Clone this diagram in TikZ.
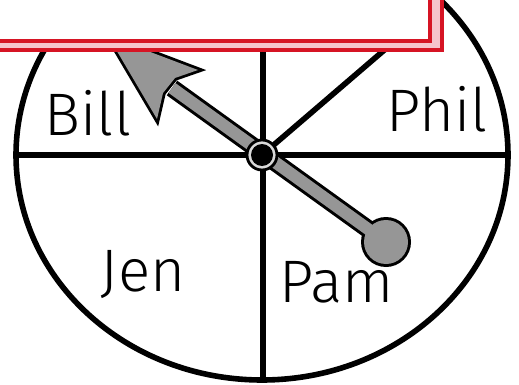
\documentclass[tikz,border=0pt]{standalone}
\usepackage{fontspec}
\setmainfont{Fira Sans}[UprightFont={* Light}]
\usepackage{tikz}
\usetikzlibrary{calc}

\definecolor{boxred}{RGB}{214,20,36}
\definecolor{boxpink}{RGB}{246,196,204}
\definecolor{pointergray}{RGB}{150,150,150}

\begin{document}
\begin{tikzpicture}[
      x=0.5pt, y=-0.5pt,
      spoke/.style={line width=2.8pt, black},
      kidname/.style={font=\fontsize{30}{36}\selectfont, inner sep=0pt, anchor=base}
    ]
      \useasboundingbox (0,0) rectangle (519,385);
      \coordinate (hub) at (262,155);
      \coordinate (bulb) at (386,242);
      \coordinate (tip) at (108,36);
      \coordinate (barbL) at (157,119);
      \coordinate (barbR) at (198,70);
      \coordinate (notchL) at (163,93);
      \coordinate (notchR) at (175,78);
      \coordinate (base) at (172,88);

      % the wheel
      \draw[spoke] (hub) ellipse [x radius=246, y radius=225];
      \draw[spoke] (263,-80) -- (263,381);
      \draw[spoke] (15,155) -- (507,155);
      \draw[spoke] (hub) -- (410,28);

      \node[kidname] (bill) at (88,135) {Bill};
      \node[kidname] (phil) at (437,132) {Phil};
      \node[kidname] (jen) at (143,291) {Jen};
      \node[kidname] (pam) at (337,302) {Pam};

      % pointer, outline first then grey on top
      \draw[line width=9pt, black] (bulb) -- (base);
      \fill[black] (bulb) circle (25);
      \filldraw[black, line width=2.8pt, line join=miter] (tip) -- (barbR) -- (notchR) -- (notchL) -- (barbL) -- cycle;
      \draw[line width=6pt, pointergray] (bulb) -- (base);
      \fill[pointergray] (bulb) circle (22);
      \fill[pointergray] (tip) -- (barbR) -- (notchR) -- (notchL) -- (barbL) -- cycle;

      % hub
      \filldraw[black, line width=1.4pt, fill=black!15] (hub) circle (15);
      \fill[black] (hub) circle (11);

      % the red box
      \filldraw[boxred, line width=2pt, fill=boxpink] (-20,-20) rectangle (442,50);
      \filldraw[boxred, line width=1.6pt, fill=white] (-20,-20) rectangle (430,41);
    \end{tikzpicture}
\end{document}
